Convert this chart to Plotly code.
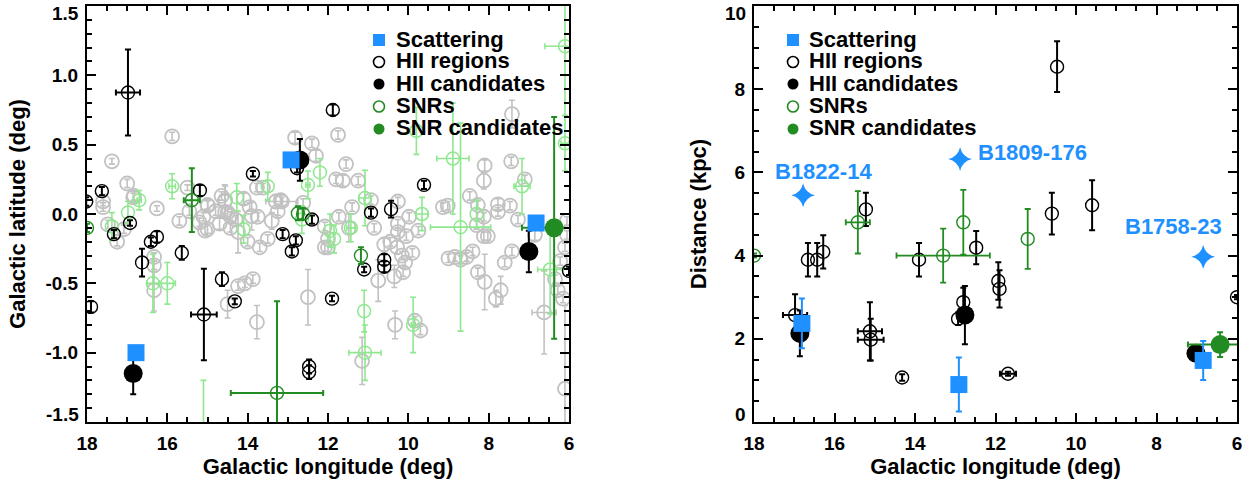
import numpy as np
import plotly.graph_objects as go

# ================= LEFT PANEL: latitude vs longitude =================
# background catalogue sources (grey)
gray_l = [15.88, 17.38, 12.82, 12.40, 12.30, 16.85, 17.60, 17.60, 16.26, 15.50, 14.99, 14.57, 14.50, 13.77, 13.62,
          14.10, 13.30, 13.18, 12.62, 11.75, 11.55, 11.63, 11.80, 11.25, 7.42, 8.10, 8.12, 7.44, 8.47, 7.77, 9.14,
          10.26, 10.93, 14.56, 15.00, 14.56, 14.43, 14.30, 13.90, 13.75, 14.43, 14.24, 14.00, 13.70, 13.50, 15.00,
          12.08, 12.08, 12.00, 14.24, 14.07, 13.87, 14.50, 13.77, 12.50, 11.73, 11.48, 10.85, 10.26, 10.26, 10.05,
          9.98, 10.28, 10.16, 10.08, 10.13, 10.75, 9.00, 12.00, 10.33, 9.84, 8.27, 8.12, 7.77, 7.47, 8.30, 8.02,
          8.12, 7.27, 7.42, 8.84, 8.70, 8.55, 8.40, 8.27, 8.10, 7.82, 6.10, 6.22, 6.35, 6.28, 6.15, 6.62, 17.48,
          17.25, 17.08, 15.06, 16.33, 16.33, 16.33, 11.15, 9.70, 6.10, 13.15, 16.83, 9.02, 6.05, 6.05, 15.10, 15.20,
          14.80, 14.70, 14.65, 13.95, 13.40, 13.25, 15.45, 10.45, 10.35, 9.90, 9.75, 10.60, 7.60, 7.70, 7.10, 6.85,
          17.00, 15.70, 11.40]
gray_b = [0.56, 0.38, 0.55, 0.51, 0.42, 0.12, 0.09, 0.05, 0.04, 0.19, 0.06, 0.09, 0.01, 0.19, 0.19,
          0.11, 0.09, 0.10, 0.08, 0.57, 0.36, 0.24, 0.25, 0.24, 0.72, 0.35, 0.24, 0.38, 0.13, 0.07, 0.05,
          0.09, 0.10, 0.10, 0.065, 0.015, -0.015, -0.04, -0.015, -0.02, -0.10, -0.13, -0.20, -0.24, -0.18, -0.11,
          -0.09, -0.24, -0.18, -0.52, -0.50, -0.47, -0.65, -0.78, -0.60, -0.02, -0.10, -0.10, -0.07, -0.13, -0.16,
          -0.02, -0.24, -0.30, -0.35, -0.42, -0.48, -0.32, -0.24, -0.80, -0.77, 0.065, -0.02, 0.015, 0.06, -0.08, -0.16,
          -0.16, -0.04, -0.27, -0.31, -0.33, -0.31, -0.27, -0.42, -0.49, -0.61, -0.24, -0.34, -0.47, -0.55, -0.61, -0.71, -0.075,
          -0.20, -0.11, -0.12, -0.31, -0.37, -0.55, -1.06, -0.84, -1.26, 0.09, 0.13, 0.06, -0.05, -0.15, -0.02, -0.06,
          0.02, -0.07, 0.13, 0.05, -0.05, 0.02, 0.02, -0.20, -0.45, -0.28, -0.12, -0.22, -0.35, -0.55, 0.25, -0.15,
          0.22, -0.05, 0.05]
gray_eb = [0.03, 0.02, 0.04, 0.03, 0.04, 0.03, 0.03, 0.03, 0.02, 0.02, 0.04, 0.12, 0.03, 0.03, 0.03,
           0.04, 0.05, 0.04, 0.03, 0.03, 0.03, 0.04, 0.03, 0.03, 0.10, 0.04, 0.06, 0.03, 0.03, 0.04, 0.03,
           0.03, 0.03, 0.10, 0.03, 0.03, 0.03, 0.03, 0.10, 0.03, 0.03, 0.15, 0.03, 0.03, 0.03, 0.03,
           0.03, 0.03, 0.03, 0.03, 0.03, 0.03, 0.10, 0.12, 0.20, 0.03, 0.10, 0.03, 0.03, 0.03, 0.03,
           0.03, 0.05, 0.03, 0.03, 0.03, 0.15, 0.03, 0.03, 0.10, 0.03, 0.03, 0.03, 0.03, 0.03, 0.03, 0.03,
           0.03, 0.03, 0.03, 0.03, 0.03, 0.03, 0.03, 0.03, 0.20, 0.06, 0.03, 0.03, 0.03, 0.03, 0.03, 0.30, 0.03,
           0.03, 0.03, 0.03, 0.03, 0.03, 0.15, 0.17, 0.03, 0.60, 0.03, 0.03, 0.03, 0.03, 0.03, 0.03, 0.03,
           0.03, 0.04, 0.03, 0.03, 0.06, 0.03, 0.03, 0.03, 0.08, 0.03, 0.03, 0.05, 0.03, 0.10, 0.03, 0.04,
           0.03, 0.03, 0.03]
gray_el = [0.0] * 92 + [0.30] + [0.0] * 10 + [0.40] + [0.0] * 26

# SNR catalogue sources (light green)
lg_l = [15.88, 16.70, 16.98, 17.38, 16.36, 16.00, 13.50, 14.27, 14.10, 12.50, 12.20, 11.08, 11.43, 11.95,
        11.85, 9.66, 11.10, 9.88, 8.89, 9.80, 6.10, 6.10, 8.70, 8.30, 11.08, 6.47, 7.17, 15.10, 12.65]
lg_b = [0.20, 0.10, 0.01, -0.09, -0.50, -0.50, 0.20, 0.12, -0.11, 0.21, 0.30, 0.115, -0.10, -0.12,
        -0.18, 0.00, -0.70, -0.80, 0.40, 0.60, 1.21, 0.51, -0.095, 0.00, -1.00, -0.40, 0.20, -1.65, -0.04]
lg_eb = [0.09, 0.07, 0.08, 0.10, 0.21, 0.15, 0.10, 0.10, 0.10, 0.10, 0.10, 0.20, 0.10, 0.12,
         0.10, 0.12, 0.15, 0.20, 0.40, 0.17, 0.50, 0.20, 0.75, 0.10, 0.20, 0.32, 0.20, 0.45, 0.10]
lg_el = [0.08, 0.05, 0.0, 0.0, 0.15, 0.20, 0.0, 0.0, 0.0, 0.05, 0.0, 0.15, 0.10, 0.0,
         0.0, 0.15, 0.0, 0.05, 0.40, 0.0, 0.50, 0.10, 0.75, 0.0, 0.40, 0.31, 0.20, 0.0, 0.0]

# HII regions (open black)
hii_l = [16.98, 17.63, 15.19, 13.87, 12.77, 11.88, 9.61, 17.33, 16.93, 16.63, 16.41, 16.26, 15.64, 15.09, 14.64,
         14.32, 12.47, 12.47, 17.90, 12.40, 13.13, 12.80, 12.90, 11.90, 11.10, 10.60, 10.60, 10.93, 10.43, 6.00, 18.02]
hii_b = [0.876, 0.165, 0.17, 0.29, 0.33, 0.75, 0.21, -0.145, -0.065, -0.35, -0.20, -0.165, -0.28, -0.725, -0.47,
         -0.63, -1.10, -1.14, -0.67, -0.04, -0.145, -0.19, -0.27, -0.61, -0.40, -0.33, -0.38, 0.01, 0.035, -0.41, 0.09]
hii_eb = [0.31, 0.03, 0.04, 0.02, 0.03, 0.04, 0.03, 0.03, 0.02, 0.10, 0.03, 0.04, 0.05, 0.33, 0.05,
          0.02, 0.05, 0.05, 0.04, 0.03, 0.03, 0.03, 0.03, 0.02, 0.02, 0.04, 0.04, 0.03, 0.06, 0.03, 0.03]
hii_el = [0.30, 0, 0, 0, 0, 0, 0, 0, 0, 0, 0, 0, 0, 0.32, 0,
          0, 0, 0, 0, 0, 0, 0, 0, 0, 0, 0, 0, 0, 0, 0, 0]

# HII candidates (filled black)
hiic_l = [16.85, 12.70, 7.00]
hiic_b = [-1.15, 0.39, -0.27]
hiic_eb = [0.15, 0.15, 0.15]

# SNRs (open dark green)
snr_l = [15.39, 12.75, 12.62, 11.18, 13.27, 18.00]
snr_b = [0.10, 0.005, 0.00, -0.30, -1.29, -0.10]
snr_eb = [0.23, 0.05, 0.04, 0.06, 0.66, 0.03]
snr_el = [0.20, 0.0, 0.0, 0.0, 1.15, 0.0]

# SNR candidates (filled dark green)
snrc_l = [6.37]
snrc_b = [-0.10]
snrc_eb = [0.80]
snrc_el = [0.80]

# Scattering (blue squares)
sc_l = [12.92, 16.78, 6.82]
sc_b = [0.39, -1.00, -0.065]

# ================= RIGHT PANEL: distance vs longitude =================
hii2_l = [10.47, 10.60, 9.60, 12.48, 11.93, 11.90, 12.80, 12.93, 11.69, 16.66, 16.43, 16.28, 16.98, 15.12,
          15.10, 14.32, 13.90, 15.22, 6.00]
hii2_d = [8.54, 5.01, 5.21, 4.19, 3.39, 3.20, 2.88, 2.48, 1.16, 3.90, 3.90, 4.09, 2.57, 2.18,
          1.98, 1.07, 3.90, 5.11, 3.00]
hii2_ed = [0.61, 0.50, 0.60, 0.40, 0.45, 0.45, 0.35, 0.15, 0.05, 0.40, 0.40, 0.40, 0.50, 0.70,
           0.50, 0.08, 0.40, 0.40, 0.05]
hii2_el = [0, 0, 0, 0, 0, 0, 0, 0, 0.20, 0, 0, 0, 0.30, 0.30,
           0.32, 0, 0, 0, 0]

hiic2_l = [16.86, 12.76, 7.02]
hiic2_d = [2.13, 2.57, 1.65]
hiic2_ed = [0.55, 0.70, 0.0]

snr2_l = [15.42, 12.80, 13.30, 11.20, 18.00]
snr2_d = [4.80, 4.80, 4.00, 4.40, 4.00]
snr2_ed = [0.75, 0.78, 0.65, 0.72, 0.05]
snr2_el = [0.30, 0.0, 1.16, 0.0, 0.0]

snrc2_l = [6.42]
snrc2_d = [1.86]
snrc2_ed = [0.30]
snrc2_el = [0.80]

sc2_l = [16.81, 12.91, 6.84]
sc2_d = [2.37, 0.90, 1.48]
sc2_ed = [0.60, 0.65, 0.47]

psr_name = ["B1822-14", "B1809-176", "B1758-23"]
psr_l = [16.78, 12.88, 6.84]
psr_d = [5.45, 6.32, 3.97]

legend_labels = ["Scattering", "HII regions", "HII candidates", "SNRs", "SNR candidates"]

# ================= styling =================
FONT = "Liberation Sans"
GRAY = "#c2c2c2"
LGREEN = "#8fe88f"
GREEN = "#228b22"
BLUE = "#1e90ff"
BLACK = "#000000"

fig = go.Figure()


def add_points(xa, ya, l, v, ev, el, color, symbol, size, lw, ebw, cap=3):
    n = len(l)
    el = el if el is not None else [0] * n
    groups = [([i for i in range(n) if el[i] <= 0], False), ([i for i in range(n) if el[i] > 0], True)]
    for idx, withx in groups:
        if not idx:
            continue
        tr = go.Scatter(
            x=[l[i] for i in idx], y=[v[i] for i in idx], mode="markers", xaxis=xa, yaxis=ya,
            showlegend=False, hoverinfo="skip",
            marker=dict(symbol=symbol, size=size, color=color, line=dict(color=color, width=lw)),
        )
        if ev is not None:
            tr.error_y = dict(type="data", array=[ev[i] for i in idx], color=color, thickness=ebw, width=cap)
        if withx:
            tr.error_x = dict(type="data", array=[el[i] for i in idx], color=color, thickness=ebw, width=cap)
        fig.add_trace(tr)


# left panel
add_points("x", "y", gray_l, gray_b, gray_eb, gray_el, GRAY, "circle-open", 14, 1.8, 1.6)
add_points("x", "y", lg_l, lg_b, lg_eb, lg_el, LGREEN, "circle-open", 13, 1.5, 1.6)
add_points("x", "y", hii_l, hii_b, hii_eb, hii_el, BLACK, "circle-open", 13, 1.4, 2)
add_points("x", "y", snr_l, snr_b, snr_eb, snr_el, GREEN, "circle-open", 13, 1.4, 2)
add_points("x", "y", hiic_l, hiic_b, hiic_eb, None, BLACK, "circle", 19, 0, 2)
add_points("x", "y", snrc_l, snrc_b, snrc_eb, snrc_el, GREEN, "circle", 19, 0, 2)
add_points("x", "y", sc_l, sc_b, None, None, BLUE, "square", 17, 0, 2)

# right panel
add_points("x2", "y2", hii2_l, hii2_d, hii2_ed, hii2_el, BLACK, "circle-open", 13, 1.4, 2)
add_points("x2", "y2", snr2_l, snr2_d, snr2_ed, snr2_el, GREEN, "circle-open", 13, 1.4, 1.8)
add_points("x2", "y2", hiic2_l, hiic2_d, hiic2_ed, None, BLACK, "circle", 19, 0, 2)
add_points("x2", "y2", snrc2_l, snrc2_d, snrc2_ed, snrc2_el, GREEN, "circle", 19, 0, 2)
add_points("x2", "y2", sc2_l, sc2_d, sc2_ed, None, BLUE, "square", 17, 0, 2)
fig.add_trace(go.Scatter(x=psr_l, y=psr_d, mode="markers", xaxis="x2", yaxis="y2", showlegend=False,
                         hoverinfo="skip", marker=dict(symbol="star-diamond", size=17, color=BLUE)))

# pulsar labels
psr_shift = [(20, 24, "center"), (16, 7, "left"), (-30, 30, "center")]
for name, l, d, (dx, dy, anc) in zip(psr_name, psr_l, psr_d, psr_shift):
    fig.add_annotation(x=l, y=d, xref="x2", yref="y2", text=name, showarrow=False, xshift=dx, yshift=dy,
                       xanchor=anc, yanchor="middle",
                       font=dict(family=FONT, size=22, color=BLUE, weight="bold"))

# ---------------- layout ----------------
W, H = 1254, 487
ML, MR, MT, MB = 87, 17, 6, 65
PW, PH = W - ML - MR, H - MT - MB


def px_x(p):
    return (p - ML) / PW


def px_y(p):
    return (H - MB - p) / PH


tick_font = dict(family=FONT, size=19, color="black", weight="bold")
title_font = dict(family=FONT, size=22, color="black", weight="bold")

base = dict(showline=True, linecolor="black", linewidth=2, mirror="allticks", ticks="inside",
            ticklen=9, tickwidth=1.5, tickcolor="black", showgrid=False, zeroline=False,
            tickfont=tick_font, automargin=False)

xt = [18, 16, 14, 12, 10, 8, 6]
x_minor = list(np.arange(6, 18.01, 0.5))
xcommon = dict(base, range=[18, 6], tickmode="array", tickvals=xt, ticktext=[str(v) for v in xt],
               minor=dict(tickmode="array", tickvals=x_minor, ticks="inside", ticklen=5, tickwidth=1.5,
                          tickcolor="black"),
               ticklabelstandoff=3,
               title=dict(text="Galactic longitude (deg)", font=title_font, standoff=6))

# y tick labels: the two end labels are drawn as annotations, nudged inside like the original
yt1 = [-1.5, -1.0, -0.5, 0.0, 0.5, 1.0, 1.5]
y1_text = ["%.1f" % v for v in yt1]
y1_minor = list(np.round(np.arange(-1.5, 1.51, 0.1), 2))
yt2 = [0, 2, 4, 6, 8, 10]
y2_text = [str(v) for v in yt2]
y2_minor = list(np.arange(0, 10.01, 0.5))


def inner_text(txt):
    return [""] + txt[1:-1] + [""]


fig.update_layout(
    width=W, height=H, margin=dict(l=ML, r=MR, t=MT, b=MB),
    paper_bgcolor="white", plot_bgcolor="white", showlegend=False,
    xaxis=dict(xcommon, domain=[0, px_x(569)], anchor="y"),
    yaxis=dict(base, range=[-1.5, 1.5], domain=[0, 1], anchor="x", tickmode="array", tickvals=yt1,
               ticktext=inner_text(y1_text), ticklabelstandoff=3,
               minor=dict(tickmode="array", tickvals=y1_minor, ticks="inside", ticklen=5, tickwidth=1.5,
                          tickcolor="black"),
               title=dict(text="Galactic latitude (deg)", font=title_font, standoff=14)),
    xaxis2=dict(xcommon, domain=[px_x(754), 1], anchor="y2"),
    yaxis2=dict(base, range=[0, 10], domain=[0, 1], anchor="x2", tickmode="array", tickvals=yt2,
                ticktext=inner_text(y2_text), ticklabelstandoff=3,
                minor=dict(tickmode="array", tickvals=y2_minor, ticks="inside", ticklen=5, tickwidth=1.5,
                           tickcolor="black"),
                title=dict(text="Distance (kpc)", font=title_font, standoff=22)),
)

for xd, yd, vals, txt in (("x domain", "y", yt1, y1_text), ("x2 domain", "y2", yt2, y2_text)):
    for v, t, shift in ((vals[0], txt[0], 8), (vals[-1], txt[-1], -7)):
        fig.add_annotation(x=0, y=v, xref=xd, yref=yd, text=t, showarrow=False, xanchor="right",
                           yanchor="middle", xshift=-6, yshift=shift, font=tick_font)

# ---------------- hand-built legends ----------------
leg_sym = [("square", BLUE, True), ("circle", BLACK, False), ("circle", BLACK, True),
           ("circle", GREEN, False), ("circle", GREEN, True)]
row_px = [40, 62, 84, 106.5, 129]
for mx, tx in ((379, 394), (793, 807)):
    for (shape, col, filled), label, ry in zip(leg_sym, legend_labels, row_px):
        half = 6 if shape == "square" else 5.5
        fig.add_shape(type="rect" if shape == "square" else "circle", xref="paper", yref="paper",
                      xsizemode="pixel", ysizemode="pixel", xanchor=px_x(mx), yanchor=px_y(ry),
                      x0=-half, x1=half, y0=-half, y1=half,
                      fillcolor=col if filled else "white", line=dict(color=col, width=0 if filled else 1.6))
        fig.add_annotation(x=px_x(tx), y=px_y(ry - 1), xref="paper", yref="paper", text=label,
                           showarrow=False, xanchor="left", yanchor="middle",
                           font=dict(family=FONT, size=22, color="black", weight="bold"))

fig.write_html("out.html")
